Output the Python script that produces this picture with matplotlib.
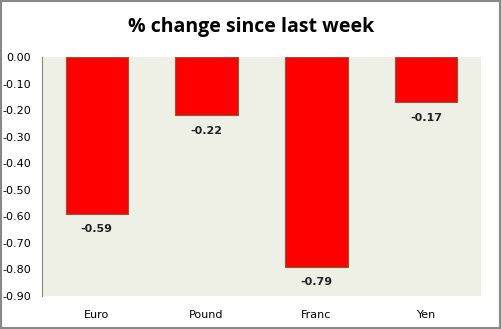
import matplotlib
matplotlib.use("Agg")
import matplotlib.pyplot as plt
import numpy as np

currencies = ["Euro", "Pound", "Franc", "Yen"]
changes = [-0.59, -0.22, -0.79, -0.17]
yticks = [0.0, -0.1, -0.2, -0.3, -0.4, -0.5, -0.6, -0.7, -0.8, -0.9]

fig = plt.figure(figsize=(5.02, 3.29), dpi=100)
ax = fig.add_axes([42/502, 1-296/329, 439/502, 239/329])
ax.set_facecolor("#eef0e6")

x = np.arange(len(currencies))
ax.bar(x, changes, width=0.57, color="#ff0000", edgecolor="#8c5a3a", linewidth=0.8)
for xi, v in zip(x, changes):
    ax.text(xi, v - 0.04, f"{v:.2f}", ha="center", va="top", fontsize=8,
            fontweight="bold", color="#222222")

ax.set_xlim(-0.5, len(currencies) - 0.5)
ax.set_ylim(-0.9, 0.0)
ax.set_yticks(yticks)
ax.set_yticklabels([f"{t:.2f}" for t in yticks], fontsize=8)
ax.set_xticks(x)
ax.set_xticklabels(currencies, fontsize=8)
ax.tick_params(axis="both", length=0, pad=8)
ax.tick_params(axis="x", pad=10)
for side in ["top", "right", "bottom"]:
    ax.spines[side].set_visible(False)
ax.spines["left"].set_color("#888888")

fig.text(0.5, 1-27/329, "% change since last week", ha="center", va="center",
         fontsize=14, fontweight="bold", family="Open Sans")
fig.patches.append(plt.Rectangle((0.002, 0.003), 0.995, 0.994, transform=fig.transFigure,
                                 fill=False, edgecolor="#888888", linewidth=1.5))

fig.savefig("out.png", dpi=100)
